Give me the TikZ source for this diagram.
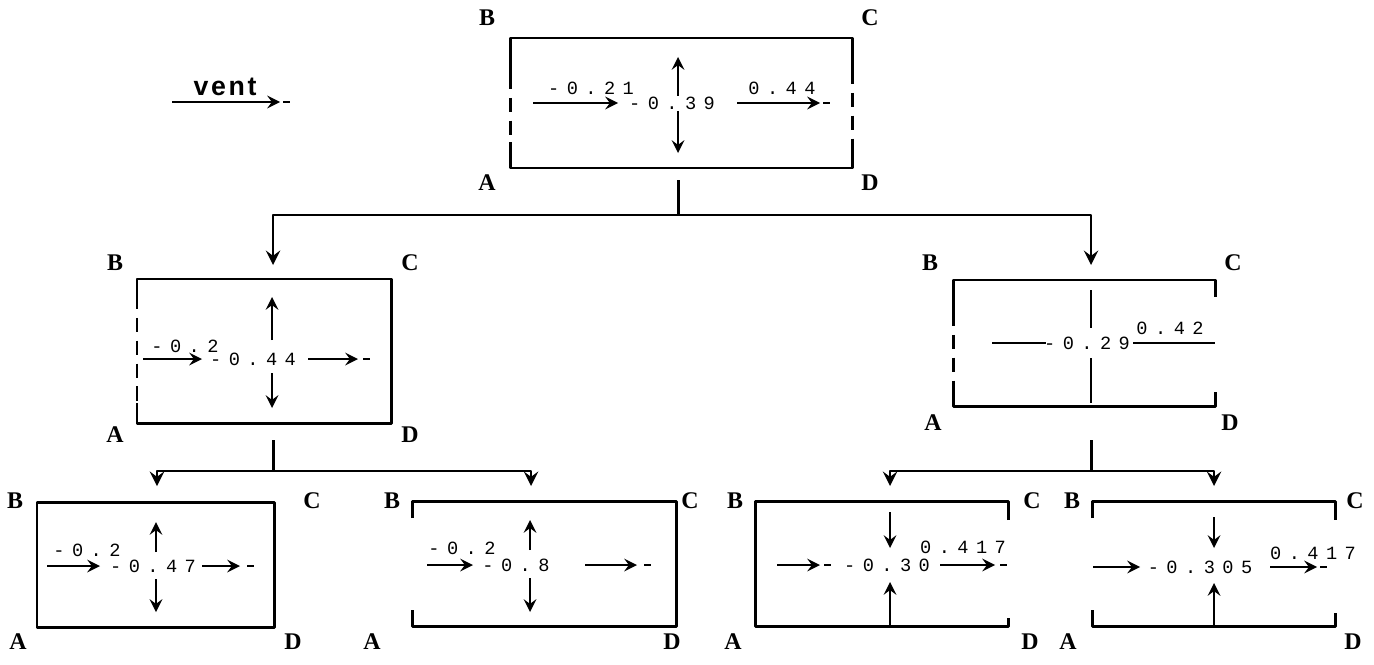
\documentclass[tikz,border=0pt]{standalone}
\usepackage{fontspec}
\newfontfamily\cornerfont{Liberation Serif}
\newfontfamily\valfont[LetterSpace=40]{Liberation Mono}
\newfontfamily\ventfont[LetterSpace=10]{Liberation Sans}
\begin{document}
\begin{tikzpicture}[x=.01cm, y=-.01cm, line join=round, >=stealth,
	box/.style={line width=.85pt},
	open/.style={line width=.85pt, dash pattern=on 4pt off 2.5pt},
	link/.style={->, line width=.8pt},
	flow/.style={->, line width=.6pt},
	tick/.style={line width=.6pt},
	corner/.style={font=\cornerfont\bfseries\fontsize{6.8}{7}\selectfont, inner sep=0pt},
	val/.style={font=\valfont\fontsize{5.3}{6}\selectfont, inner sep=0pt}]
	\useasboundingbox (0,0) rectangle (1374,664);
	% vent
	\node[font=\ventfont\bfseries\fontsize{7.6}{8}\selectfont, inner sep=0pt] (vent) at (225,87) {vent};
	\draw[flow] (172,102) -- (280,102);
	% boites
	\draw[box] (510,75) |- (852,38) -- (852,70);
	\draw[box] (510,142) |- (852,168) -- (852,147);
	\draw[open] (510,75) -- (510,142);
	\draw[open] (852,70) -- (852,147);
	\draw[box] (137,295) |- (391,279) -- (391,423) -| (137,403);
	\draw[open] (137,295) -- (137,403);
	\draw[box] (953,312) |- (1215,280) -- (1215,297);
	\draw[box] (953,390) |- (1215,406) -- (1215,392);
	\draw[open] (953,312) -- (953,390);
	\draw[box] (37,502) rectangle (274,627);
	\draw[box] (412,518) |- (676,501) -- (676,626) -| (412,610);
	\draw[box] (1008,520) |- (755,501) -- (755,626) -| (1008,618);
	\draw[box] (1092,518) |- (1335,501) -- (1335,520);
	\draw[box] (1092,610) |- (1335,626) -- (1335,613);
	% sommets
	\foreach \x/\y/\t in {487/18/B, 870/18/C, 487/183/A, 870/183/D,
		115/263/B, 410/263/C, 115/435/A, 410/435/D,
		930/263/B, 1233/263/C, 933/423/A, 1230/423/D,
		15/501/B, 312/501/C, 18/642/A, 293/642/D,
		392/501/B, 690/501/C, 372/642/A, 672/642/D,
		735/501/B, 1032/501/C, 733/642/A, 1030/642/D,
		1072/501/B, 1355/501/C, 1068/642/A, 1353/642/D}
	\node[corner] (\t-\x) at (\x,\y) {\t};
	% liaisons
	\coordinate (top-out) at (678,180);
	\coordinate (top-split) at (678,215);
	\coordinate (midL-in) at (273,265);
	\coordinate (midR-in) at (1091,265);
	\coordinate (midL-out) at (273,440);
	\coordinate (midL-split) at (273,471);
	\coordinate (midR-out) at (1091,440);
	\coordinate (midR-split) at (1091,471);
	\coordinate (b1-in) at (157,486);
	\coordinate (b2-in) at (531,486);
	\coordinate (b3-in) at (890,486);
	\coordinate (b4-in) at (1214,486);
	\draw[box] (top-out) -- (top-split);
	\draw[link] (top-split) -| (midL-in);
	\draw[link] (top-split) -| (midR-in);
	\draw[box] (midL-out) -- (midL-split);
	\draw[link] (midL-split) -| (b1-in);
	\draw[link] (midL-split) -| (b2-in);
	\draw[box] (midR-out) -- (midR-split);
	\draw[link] (midR-split) -| (b3-in);
	\draw[link] (midR-split) -| (b4-in);
	% boite haute
	\node[val] (t-in) at (591,88) {-0.21};
	\node[val] (t-mid) at (672,103) {-0.39};
	\node[val] (t-out) at (782,88) {0.44};
	\draw[flow] (533,103) -- (618,103);
	\draw[flow] (678,96) -- (678,57);
	\draw[flow] (678,111) -- (678,153);
	\draw[flow] (737,103) -- (820,103);
	% boite gauche
	\node[val] (l-in) at (185,346) {-0.2};
	\node[val] (l-mid) at (253,359) {-0.44};
	\draw[flow] (143,359) -- (202,359);
	\draw[flow] (272,340) -- (272,297);
	\draw[flow] (272,373) -- (272,408);
	\draw[flow] (308,359) -- (358,359);
	% boite droite
	\node[val] (r-mid) at (1087,343) {-0.29};
	\node[val] (r-out) at (1170,328) {0.42};
	\draw[tick] (992,343) -- (1046,343);
	\draw[tick] (1133,343) -- (1215,343);
	\draw[tick] (1091,290) -- (1091,328);
	\draw[tick] (1091,358) -- (1091,403);
	% boites basses
	\node[val] (b1-in-v) at (87,550) {-0.2};
	\node[val] (b1-mid) at (153,566) {-0.47};
	\draw[flow] (47,566) -- (100,566);
	\draw[flow] (156,552) -- (156,522);
	\draw[flow] (156,579) -- (156,612);
	\draw[flow] (202,566) -- (240,566);
	\node[val] (b2-in-v) at (462,548) {-0.2};
	\node[val] (b2-mid) at (516,565) {-0.8};
	\draw[flow] (427,565) -- (473,565);
	\draw[flow] (530,550) -- (530,520);
	\draw[flow] (530,578) -- (530,612);
	\draw[flow] (585,565) -- (637,565);
	\node[val] (b3-mid) at (887,565) {-0.30};
	\node[val] (b3-out) at (963,547) {0.417};
	\draw[flow] (777,565) -- (820,565);
	\draw[flow] (890,512) -- (890,548);
	\draw[flow] (890,626) -- (890,582);
	\draw[flow] (940,565) -- (995,565);
	\node[val] (b4-mid) at (1200,567) {-0.305};
	\node[val] (b4-out) at (1313,553) {0.417};
	\draw[flow] (1093,567) -- (1140,567);
	\draw[flow] (1214,517) -- (1214,548);
	\draw[flow] (1214,626) -- (1214,583);
	\draw[flow] (1270,567) -- (1317,567);
	% tirets
	\foreach \x/\y in {283/102, 823/103, 363/359, 247/566, 644/565, 824/565, 1000/565, 1320/567}
	\draw[tick] (\x,\y) -- ++(7,0);
\end{tikzpicture}
\end{document}
